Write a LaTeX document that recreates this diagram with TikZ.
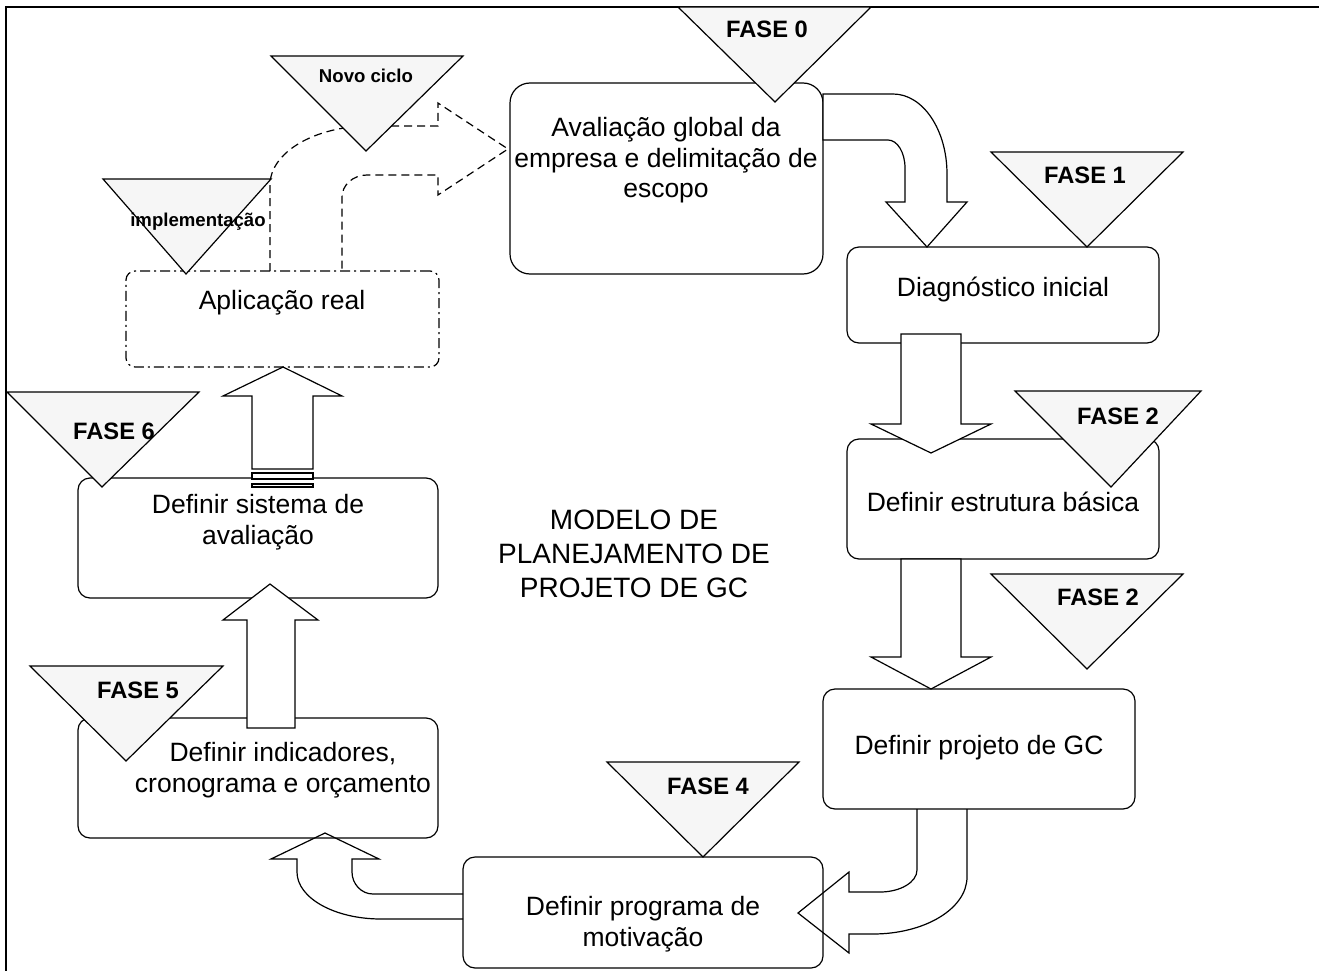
\documentclass[tikz,border=0pt]{standalone}
\usepackage{fontspec}
\setmainfont{Liberation Sans}
\definecolor{trifill}{RGB}{246,246,246}
\newcommand\bxf{\fontsize{26.5}{30.5}\selectfont}
\newcommand\fsf{\fontsize{23.7}{28}\selectfont\bfseries}
\newcommand\smf{\fontsize{18.6}{22}\selectfont\bfseries}
\newcommand\ctf{\fontsize{28}{34}\selectfont}
\begin{document}
\begin{tikzpicture}[x=1pt,y=-1pt,
  box/.style={draw, line width=1.2pt, rounded corners=12pt, inner sep=0pt},
  tri/.style={draw, fill=trifill, line width=1.2pt},
  blk/.style={draw, fill=white, line width=1.2pt},
  bln/.style={draw, line width=1.2pt},
  lbl/.style={inner sep=0pt, anchor=north, align=center},
  boxtxt/.style={lbl, font=\bxf},
  fasetxt/.style={lbl, font=\fsf},
  smtxt/.style={lbl, font=\smf}]
\useasboundingbox (0,0) rectangle (1319,971);
% frame
\draw[line width=1.6pt] (6,971) -- (6,7) -- (1319,7);

% boxes
\node[box, rounded corners=20pt, minimum width=313pt, minimum height=191pt] (b0) at (666.5,178.5) {};
\node[box, minimum width=312pt, minimum height=96pt] (b1) at (1003,295) {};
\node[box, minimum width=312pt, minimum height=120pt] (b2) at (1003,499) {};
\node[box, minimum width=312pt, minimum height=120pt] (b3) at (979,749) {};
\node[box, minimum width=360pt, minimum height=111pt] (b4) at (643,912.5) {};
\node[box, minimum width=360pt, minimum height=120pt] (b5) at (258,778) {};
\node[box, minimum width=360pt, minimum height=120pt] (b6) at (258,538) {};
\node[box, rounded corners=9pt, dash pattern=on 10pt off 4pt on 2pt off 4pt, minimum width=313pt, minimum height=96pt] (b7) at (282.5,319) {};

% block arrows
\draw[blk] (823,94) -- (893,94) .. controls (923,94) and (947,130) .. (947,174) -- (947,202) -- (967,202) -- (927,247) -- (886,202) -- (905,202) -- (905,168) .. controls (905,152.5) and (897.4,140) .. (888,140) -- (823,140) -- cycle;
\draw[blk] (901,334) -- (961,334) -- (961,424) -- (991,424) -- (931,453) -- (871,424) -- (901,424) -- cycle;
\draw[blk] (901,559) -- (961,559) -- (961,657) -- (991,657) -- (931,689) -- (871,657) -- (901,657) -- cycle;
\draw[bln] (967,809) -- (967,877) .. controls (967,908.5) and (925,934) .. (873,934) -- (849,934) -- (849,953) -- (798,913) -- (849,872) -- (849,892) -- (880,892) .. controls (900.4,892) and (917,882.1) .. (917,870) -- (917,809);
\draw[bln] (463,894) -- (373,894) .. controls (361.4,894) and (352,884) .. (352,872) -- (352,859) -- (379,859) -- (325,833) -- (271,859) -- (297,859) -- (297,872) .. controls (297,898) and (334.6,919) .. (381,919) -- (463,919);
\draw[blk] (247,728) -- (247,620) -- (223,620) -- (270,584) -- (318,620) -- (295,620) -- (295,728) -- cycle;
\draw[blk] (252,469) -- (252,396) -- (223,396) -- (283,367) -- (342,396) -- (313,396) -- (313,469) -- cycle;
\draw[blk] (252,473) rectangle (313,479);
\draw[blk] (252,484) rectangle (313,487);
\draw[bln, dash pattern=on 8pt off 5pt] (270,271) -- (270,185) .. controls (270,152.4) and (314.8,126) .. (370,126) -- (438,126) -- (438,103) -- (508,149) -- (438,195) -- (438,175) -- (367,175) .. controls (353.2,175) and (342,184.9) .. (342,197) -- (342,271);

% phase triangles
\draw[tri] (678,7) -- (871,7) -- (775,102) -- cycle;
\draw[tri] (991,152) -- (1183,152) -- (1087,247) -- cycle;
\draw[tri] (1015,391) -- (1201,391) -- (1111,487) -- cycle;
\draw[tri] (991,574) -- (1183,574) -- (1087,669) -- cycle;
\draw[tri] (607,762) -- (799,762) -- (703,857) -- cycle;
\draw[tri] (30,666) -- (223,666) -- (126,761) -- cycle;
\draw[tri] (7,392) -- (199,392) -- (102,487) -- cycle;
\draw[tri] (103,179) -- (271,179) -- (186,274) -- cycle;
\draw[tri] (271,56) -- (463,56) -- (366,151) -- cycle;

% box texts
\node[boxtxt] (t0) at (666,115.4) {\strut Avaliação global da\\empresa e delimitação de\\escopo};
\node[boxtxt] (t1) at (1003,275.4) {\strut Diagnóstico inicial};
\node[boxtxt] (t2) at (1003,490.4) {\strut Definir estrutura básica};
\node[boxtxt] (t3) at (979,733.4) {\strut Definir projeto de GC};
\node[boxtxt] (t4) at (643,894.4) {\strut Definir programa de\\motivação};
\node[boxtxt] (t5) at (283,740.4) {\strut Definir indicadores,\\cronograma e orçamento};
\node[boxtxt] (t6) at (258,492.4) {\strut Definir sistema de\\avaliação};
\node[boxtxt] (t7) at (282,288.4) {\strut Aplicação real};

% phase labels
\node[fasetxt] (f0) at (767,18.2) {\strut FASE 0};
\node[fasetxt] (f1) at (1085,163.2) {\strut FASE 1};
\node[fasetxt] (f2a) at (1118,404.2) {\strut FASE 2};
\node[fasetxt] (f2b) at (1098,585.2) {\strut FASE 2};
\node[fasetxt] (f4) at (708,774.2) {\strut FASE 4};
\node[fasetxt] (f5) at (138,678.2) {\strut FASE 5};
\node[fasetxt] (f6) at (114,419.2) {\strut FASE 6};
\node[smtxt] (nc) at (366,66.7) {\strut Novo ciclo};
\node[smtxt] (im) at (198,210.7) {\strut implementação};

% title
\node[lbl, font=\ctf] (title) at (634,505.4) {\strut MODELO DE\\PLANEJAMENTO DE\\PROJETO DE GC};
\end{tikzpicture}
\end{document}
